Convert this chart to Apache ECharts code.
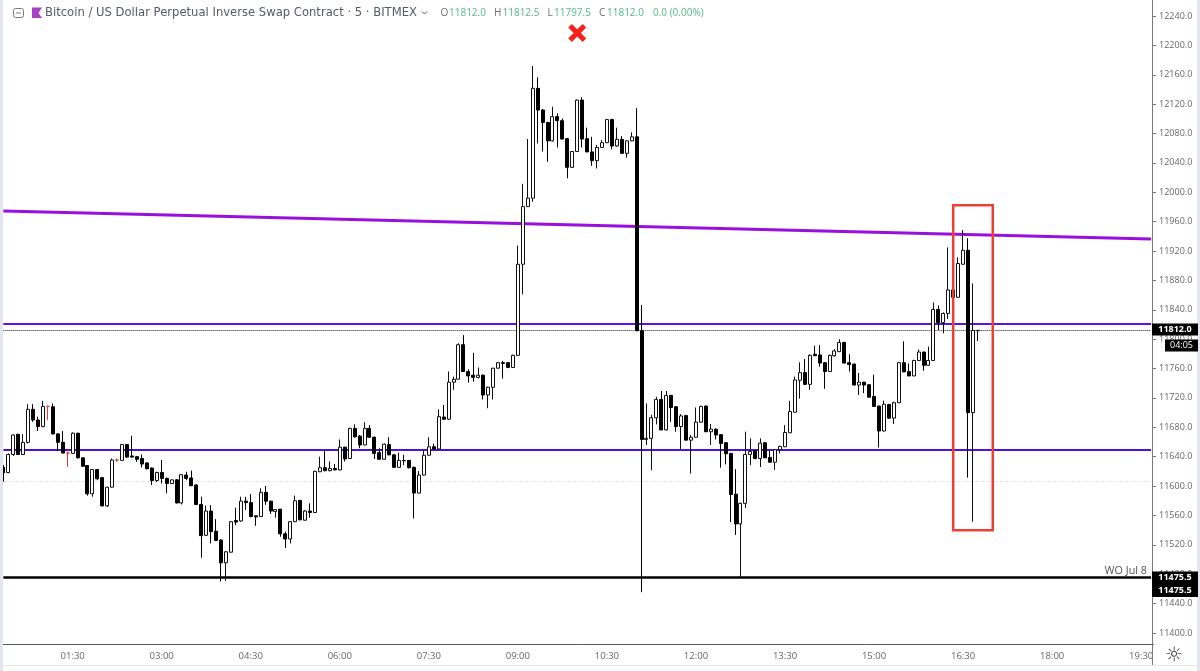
<!DOCTYPE html>
<html>
<head>
    <meta charset="utf-8">
    <title>XBTUSD 5m</title>
    <script src="https://cdn.jsdelivr.net/npm/echarts@6/dist/echarts.min.js"></script>
    <style>html,body{margin:0;padding:0;background:#fff;}</style>
</head>
<body>
<div id="main" style="width:1200px;height:671px;"></div>
<script type="text/javascript">
    var FONT = '"Open Sans", sans-serif';
    var TITLE_FONT = '"DejaVu Sans", sans-serif';

    var opens = [
        11625.5,11618.5,11643,11670.5,11643,11659.5,11704.5,11690,11681,11708.5,
        11708,11671,11659.5,11645,11644.5,11672,11638.5,11628,11589.5,11622.5,
        11611.5,11573,11598.5,11635.5,11635,11656.5,11641,11640,11637.5,11631.5,
        11624.5,11607.5,11618.5,11610.5,11603.5,11608.5,11577,11615,11611,11601.5,
        11575,11533,11566,11538.5,11526.5,11495.5,11510,11553,11552.5,11579.5,
        11577.5,11559.5,11558.5,11591.5,11579.5,11565.5,11568.5,11535,11528,11551.5,
        11580.5,11553.5,11566,11564,11619.5,11625,11621,11624,11622,11653,
        11637.5,11678.5,11668,11656,11678.5,11666.5,11645.5,11636.5,11656.5,11642.5,
        11625.5,11635,11635,11625.5,11590.5,11615,11642,11653.5,11650.5,11694,
        11691,11741.5,11745.5,11792.5,11756,11751,11748,11751,11724,11734.5,
        11760.5,11768,11768,11761.5,11778,11902,11980.5,11992,12141.5,12112,
        12095,12070,12103,12097.5,12073,12034,12055.5,12125.5,12073,12055,
        12043,12061,12067.5,12099,12063,12072,12053,12070,12075.5,11811.5,
        11663.5,11665,11693,11718,11676.5,11723.5,11708,11681,11696,11662.5,
        11666.5,11687,11709,11674,11677.5,11670,11659,11644.5,11589,11548.5,
        11576.5,11643,11648,11637.5,11659,11639,11632.5,11649.5,11653.5,11672.5,
        11700.5,11744,11754.5,11738.5,11779.5,11778.5,11768,11756,11777.5,11783,
        11795.5,11768,11766,11737.5,11741.5,11738,11722,11709,11675,11711,
        11692.5,11713.5,11768,11756,11750,11771,11782.5,11764.5,11771,11840.5,
        11822.5,11835,11867,11857,11902,11921,11700,11811.5
    ];
    var closes = [
        11618,11643,11669.5,11643,11659.5,11704.5,11690,11681,11708.5,11708.5,
        11671,11659.5,11645,11645,11672,11638.5,11627,11589.5,11622.5,11610,
        11573,11598.5,11635.5,11635.5,11656.5,11639.5,11639.5,11636.5,11630,11623.5,
        11607.5,11618.5,11610.5,11603.5,11608.5,11577,11615.5,11610.5,11600.5,11575,
        11532.5,11566,11538,11526,11495.5,11510.5,11551.5,11551,11579.5,11577.5,
        11558.5,11558,11591.5,11579.5,11566,11568,11535,11528,11551.5,11580,
        11554,11566,11564,11620,11625,11621,11624,11622,11653,11637,
        11678.5,11667,11656,11678.5,11666.5,11644.5,11636.5,11657,11642.5,11625.5,
        11635,11634.5,11625,11590.5,11615,11642,11653.5,11650.5,11694.5,11691,
        11741.5,11745.5,11792.5,11756,11750,11748,11751,11724,11734.5,11760.5,
        11768,11767,11761.5,11778,11902,11980.5,11992,12141.5,12112,12095,
        12070,12103,12097.5,12072.5,12034,12055.5,12125.5,12072.5,12055,12043,
        12061,12067.5,12099,12063,12072,12053,12070,12075.5,11811.5,11663.5,
        11665,11693,11718,11676.5,11723.5,11707,11681,11695.5,11662.5,11666.5,
        11687,11708.5,11674,11677.5,11669.5,11658,11644,11588.5,11548.5,11576.5,
        11643,11647,11637.5,11658.5,11638.5,11632.5,11649.5,11654,11673,11701.5,
        11744.5,11754.5,11738.5,11778,11777.5,11767.5,11756,11778,11784,11795.5,
        11767.5,11765.5,11737.5,11741.5,11737.5,11721,11708.5,11675,11711.5,11692.5,
        11713.5,11768,11755.5,11750,11771,11782.5,11764.5,11771,11840.5,11822.5,
        11835,11867,11857,11903,11921,11700,11812,11812
    ];
    var highs = [
        11628.5,11644.5,11670.5,11671,11670.5,11711.5,11711.5,11694.5,11716,11709.5,
        11712.5,11672,11675,11647,11673,11672.5,11639,11628.5,11623,11623,
        11612,11599,11637.5,11637.5,11657.5,11657.5,11668.5,11641,11643,11632.5,
        11625.5,11619.5,11635.5,11611.5,11609,11609.5,11616.5,11619.5,11621,11602.5,
        11585.5,11573.5,11574,11555,11527.5,11511.5,11552.5,11570.5,11585.5,11585.5,
        11589,11559.5,11597,11600,11580,11568.5,11569,11538,11552.5,11587,
        11581,11567.5,11576.5,11621,11640,11649,11633.5,11630,11663.5,11653.5,
        11679.5,11684,11669.5,11687,11683,11667.5,11651.5,11658,11666.5,11643,
        11645.5,11642.5,11635.5,11626.5,11620.5,11648,11666.5,11657.5,11704.5,11710.5,
        11756,11749,11794.5,11805.5,11759,11781.5,11761.5,11752,11735.5,11761,
        11769,11770.5,11769,11779,11927.5,12011.5,12072.5,12172,12156.5,12113.5,
        12096,12116.5,12107.5,12100.5,12074,12056,12126.5,12129.5,12088,12075.5,
        12064.5,12071,12100,12100,12088,12076.5,12071,12081.5,12114.5,11846.5,
        11712.5,11697,11721.5,11729.5,11729.5,11724,11709,11698,11697,11669.5,
        11707,11709.5,11709.5,11684.5,11678.5,11670.5,11659.5,11645,11623,11577.5,
        11674,11665,11648,11665,11659.5,11648,11650.5,11655,11683,11716,
        11749,11768.5,11773,11779.5,11791,11792,11769,11779,11786.5,11800,
        11796.5,11779.5,11767,11754,11742,11739,11751.5,11709.5,11716.5,11712,
        11715,11769,11797,11767,11772,11786,11783,11790,11850,11846,
        11836.5,11925,11868,11911.5,11948.5,11937.5,11876,11812.5
    ];
    var lows = [
        11606,11617.5,11641,11642.5,11642.5,11658,11687.5,11675,11680,11690,
        11670.5,11647.5,11644.5,11626,11643.5,11637.5,11626.5,11587,11585.5,11608,
        11572.5,11571.5,11598,11633,11634.5,11638.5,11638.5,11633,11625.5,11623,
        11601.5,11605.5,11603.5,11590,11603,11576.5,11575,11608,11600,11574,
        11502.5,11532,11522,11525,11470,11471,11509,11547,11551.5,11567.5,
        11557.5,11546,11558,11574.5,11562,11557,11531,11515.5,11522,11551,
        11553.5,11553,11557,11563.5,11619,11620,11620,11621.5,11621.5,11633.5,
        11637,11666,11651.5,11655.5,11666,11637,11636,11636,11642,11624.5,
        11625,11628.5,11624,11556,11590,11614.5,11641.5,11650,11650,11690.5,
        11690.5,11731,11745,11755.5,11741,11742,11746.5,11718,11706,11718,
        11760,11746.5,11760.5,11761,11777.5,11861,11980,11987,12066.5,12055.5,
        12041.5,12069,12061,12072,12019,12033,12055,12061,12054.5,12036,
        12032.5,12060.5,12067,12058.5,12062,12052.5,12047,12069.5,11811,11455.5,
        11656,11621.5,11684,11676,11675.5,11687.5,11674,11650.5,11662.5,11617,
        11666,11686.5,11673.5,11656,11663.5,11625,11629.5,11551,11533.5,11474.5,
        11570,11628.5,11636.5,11626,11638,11632,11622,11644.5,11653,11672.5,
        11700,11719,11737.5,11731,11777,11762.5,11732.5,11756,11776,11782.5,
        11767,11756,11737,11724,11726.5,11720.5,11708,11652.5,11674.5,11691.5,
        11684.5,11713,11755,11749.5,11749.5,11771,11757,11764,11770.5,11812.5,
        11808,11827.5,11856.5,11856.5,11901.5,11611.5,11551.5,11797.5
    ];
    var timeTicks = ['01:30','03:00','04:30','06:00','07:30','09:00','10:30','12:00','13:30','15:00','16:30','18:00','19:30'];
    var priceTicks = [11400,11440,11480,11520,11560,11600,11640,11680,11720,11760,11800,11840,11880,11920,11960,12000,12040,12080,12120,12160,12200,12240];

    // levels drawn by hand on the chart
    var trendLine = [11974.5, 11936.5];
    var resistance = 11820.5;
    var support = 11650;
    var weeklyOpen = 11475.5;
    var lastPrice = 11812;
    var sessionLine = 11607;
    var boxTop = 11982.5;
    var boxBottom = 11540;
    var crossPrice = 12217;

    // 5 minute bars, the pane starts at 00:20 and runs on past the last bar
    var categories = [];
    for (var i = 0; i < 233; i++) {
        var m = 20 + i * 5;
        var hh = Math.floor(m / 60), mm = m % 60;
        categories.push((hh < 10 ? '0' : '') + hh + ':' + (mm < 10 ? '0' : '') + mm);
    }
    var first = categories[0], last = categories[categories.length - 1];

    var candles = [];
    for (var j = 0; j < opens.length; j++) {
        candles.push([opens[j], closes[j], lows[j], highs[j]]);
    }

    function level(price, style) {
        return [{coord: [first, price], lineStyle: style}, {coord: [last, price]}];
    }

    function txt(x, y, text, color, size, align, weight, family) {
        return {type: 'text', z: 110, x: x, y: y, style: {
            text: text, fill: color, font: (weight || 'normal') + ' ' + size + 'px ' + (family || FONT),
            textAlign: align || 'left', textVerticalAlign: 'middle'
        }};
    }
    function box(x, y, w, h, color) {
        return {type: 'rect', z: 105, shape: {x: x, y: y, width: w, height: h}, style: {fill: color}};
    }

    var gray = '#6a6d78', teal = '#53b987', strip = '#e3e6ee';

    var myChart = echarts.init(document.getElementById('main'));
    var option = {
        animation: false,
        backgroundColor: '#fff',
        grid: {left: 0.9, top: 0, width: 1152.65, height: 644.5, containLabel: false},
        xAxis: {
            type: 'category',
            data: categories,
            boundaryGap: true,
            axisLine: {lineStyle: {color: '#55585f', width: 1}},
            axisTick: {
                alignWithLabel: true,
                length: 3,
                lineStyle: {color: '#55585f'},
                interval: function (idx, value) { return timeTicks.indexOf(value) >= 0; }
            },
            axisLabel: {
                interval: function (idx, value) { return timeTicks.indexOf(value) >= 0; },
                color: '#666',
                fontFamily: FONT,
                fontSize: 9.5,
                margin: 7
            },
            splitLine: {show: false}
        },
        yAxis: {
            type: 'value',
            position: 'right',
            offset: -1.5,
            min: 11384.3,
            max: 12261.8,
            axisLine: {show: true, lineStyle: {color: '#77797f', width: 1}},
            axisTick: {show: true, length: 4, lineStyle: {color: '#77797f'}, customValues: priceTicks},
            axisLabel: {
                customValues: priceTicks,
                color: '#666',
                fontFamily: FONT,
                fontSize: 9,
                margin: 7,
                formatter: function (v) { return v.toFixed(1); }
            },
            splitLine: {show: false}
        },
        series: [{
            type: 'candlestick',
            data: candles,
            barWidth: 3.5,
            itemStyle: {
                color: '#ffffff',
                color0: '#000000',
                borderColor: '#111111',
                borderColor0: '#000000',
                borderColorDoji: '#e53935',
                borderWidth: 1
            },
            silent: true,
            markLine: {
                z: 1,
                silent: true,
                symbol: 'none',
                label: {show: false},
                data: [
                    [{coord: [first, trendLine[0]], lineStyle: {color: '#9a0fe0', width: 3, type: 'solid'}}, {coord: [last, trendLine[1]]}],
                    level(resistance, {color: '#5a12e6', width: 2, type: 'solid'}),
                    level(support, {color: '#4a14d8', width: 2, type: 'solid'}),
                    level(weeklyOpen, {color: '#000000', width: 2.5, type: 'solid'}),
                    level(lastPrice, {color: '#222222', width: 1, type: 'dotted'}),
                    level(sessionLine, {color: '#e4e4e4', width: 1, type: 'dashed'})
                ]
            },
            markArea: {
                z: 6,
                silent: true,
                itemStyle: {color: 'rgba(0,0,0,0)', borderColor: '#eb4034', borderWidth: 2.5},
                data: [[{coord: [categories[192], boxTop]}, {coord: [categories[200], boxBottom]}]]
            },
            markPoint: {
                silent: true,
                symbol: 'path://M4 0 L10 6 L16 0 L20 4 L14 10 L20 16 L16 20 L10 14 L4 20 L0 16 L6 10 L0 4 Z',
                symbolSize: 18,
                itemStyle: {color: '#f7211c'},
                label: {show: false},
                data: [{coord: [categories[116], crossPrice]}]
            }
        }],
        graphic: [
            box(0, 0, 3, 671, strip),
            box(1197, 0, 3, 671, strip),
            box(3, 665, 1194, 1, strip),
            box(1153, 645, 44, 20, '#ffffff'),
            box(1152, 644, 1, 21, '#77797f'),
            // price badges on the scale
            box(1152, 323.5, 46, 12, '#000000'),
            txt(1175, 329.5, '11812.0', '#ffffff', 9, 'center', 'bold'),
            box(1165, 339.5, 33, 12, '#000000'),
            txt(1181.5, 345.5, '04:05', '#ffffff', 9, 'center'),
            box(1152, 571.5, 46, 25.5, '#000000'),
            txt(1175, 577.5, '11475.5', '#ffffff', 9, 'center', 'bold'),
            txt(1175, 590.5, '11475.5', '#ffffff', 9, 'center', 'bold'),
            txt(1147, 571, 'WO Jul 8', '#555555', 10.8, 'right'),
            txt(1174, 655.5, '\u263C', '#444444', 20, 'center', 'normal', TITLE_FONT),
            // legend row
            {type: 'rect', z: 105, shape: {x: 13.5, y: 8.5, width: 10, height: 9, r: 2}, style: {fill: 'none', stroke: '#777', lineWidth: 1}},
            {type: 'line', z: 105, shape: {x1: 16, y1: 13, x2: 21, y2: 13}, style: {stroke: '#777', lineWidth: 1}},
            {type: 'polygon', z: 105, shape: {points: [[32, 7.5], [42, 7.5], [38.5, 13], [42, 18], [32, 18]]}, style: {fill: '#a742c4'}},
            txt(45, 13, 'Bitcoin / US Dollar Perpetual Inverse Swap Contract \u00B7 5 \u00B7 BITMEX', '#555a66', 11.6, 'left', 'normal', TITLE_FONT),
            {type: 'polyline', z: 105, shape: {points: [[422, 11.5], [424.5, 14], [427, 11.5]]}, style: {fill: 'none', stroke: '#555', lineWidth: 1}},
            txt(440.5, 13, 'O', gray, 10, 'left'), txt(449, 13, '11812.0', teal, 10, 'left'),
            txt(494, 13, 'H', gray, 10, 'left'), txt(502.5, 13, '11812.5', teal, 10, 'left'),
            txt(547.5, 13, 'L', gray, 10, 'left'), txt(554, 13, '11797.5', teal, 10, 'left'),
            txt(599, 13, 'C', gray, 10, 'left'), txt(607, 13, '11812.0', teal, 10, 'left'),
            txt(653, 13, '0.0 (0.00%)', teal, 10, 'left')
        ]
    };
    myChart.setOption(option);
</script>
</body>
</html>
